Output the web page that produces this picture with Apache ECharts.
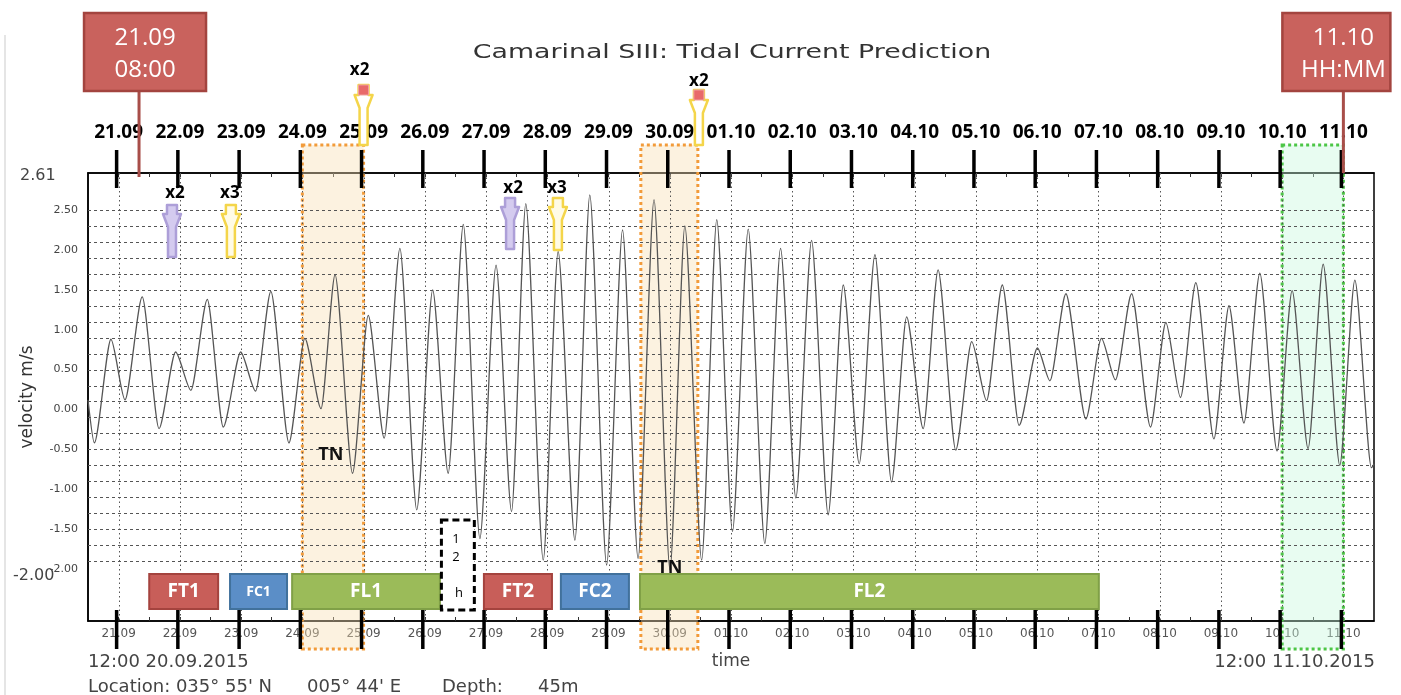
<!DOCTYPE html>
<html>
<head>
<meta charset="utf-8">
<script src="https://cdn.jsdelivr.net/npm/echarts@6/dist/echarts.min.js"></script>
<style>
html,body{margin:0;padding:0;background:#fff;}
#c{width:1401px;height:695px;}
</style>
</head>
<body>
<div id="c"></div>
<script>
// ---------------- DATA ----------------
const YEAR = 2015;
const startTime = '09-20 12:00';
const endTime = '10-11 12:00';

const dayTickLabels = ['21.09','22.09','23.09','24.09','25.09','26.09','27.09','28.09','29.09','30.09',
  '01.10','02.10','03.10','04.10','05.10','06.10','07.10','08.10','09.10','10.10','11.10'];

const yTickValues = [2.5, 2.0, 1.5, 1.0, 0.5, 0.0, -0.5, -1.0, -1.5, -2.0];
const gridLevels = [2.5, 2.3, 2.1, 1.9, 1.7, 1.5, 1.3, 1.1, 0.9, 0.7, 0.5, 0.3, 0.1,
  -0.1, -0.3, -0.5, -0.7, -0.9, -1.1, -1.3, -1.5, -1.7, -1.9];

// tidal current extremes (time, velocity m/s)
const tideTimes = [
 '09-20 12:00','09-20 14:30','09-20 21:00','09-21 02:30','09-21 09:15','09-21 15:50','09-21 22:20','09-22 04:20','09-22 10:45','09-22 17:00',
 '09-22 23:50','09-23 05:40','09-23 11:40','09-23 18:45','09-24 01:00','09-24 07:20','09-24 12:50','09-24 19:40','09-25 01:50','09-25 08:05',
 '09-25 14:15','09-25 20:50','09-26 03:05','09-26 09:10','09-26 15:05','09-26 21:35','09-27 03:55','09-27 10:00','09-27 15:35','09-27 22:25',
 '09-28 04:15','09-28 10:50','09-28 16:40','09-28 23:15','09-29 05:30','09-29 11:35','09-29 17:50','09-30 00:05','09-30 05:55','09-30 12:30',
 '09-30 18:25','10-01 00:35','10-01 06:45','10-01 13:15','10-01 19:25','10-02 01:25','10-02 07:35','10-02 14:05','10-02 20:00','10-03 02:15',
 '10-03 08:25','10-03 14:55','10-03 20:50','10-04 03:20','10-04 09:10','10-04 16:05','10-04 22:20','10-05 04:10','10-05 10:20','10-05 16:55',
 '10-06 00:05','10-06 05:00','10-06 11:15','10-06 19:05','10-07 01:10','10-07 06:40','10-07 13:00','10-07 20:25','10-08 02:25','10-08 08:10',
 '10-08 14:10','10-08 21:15','10-09 03:10','10-09 09:00','10-09 15:15','10-09 22:00','10-10 03:55','10-10 10:10','10-10 16:05','10-10 22:35',
 '10-11 04:30','10-11 11:00','10-11 12:00'];
const tideValues = [
 0.12,-0.42,0.88,0.12,1.41,-0.24,0.72,0.24,1.38,-0.22,
 0.72,0.23,1.48,-0.42,0.89,0.01,1.69,-0.80,1.18,-0.36,
 2.02,-1.26,1.50,-0.80,2.32,-1.62,1.81,-1.28,2.58,-1.89,
 1.98,-1.64,2.69,-1.95,2.25,-1.87,2.63,-2.01,2.30,-1.89,
 2.38,-1.53,2.26,-1.68,2.02,-1.11,2.12,-1.32,1.56,-0.68,
 1.94,-0.91,1.16,-0.24,1.75,-0.51,0.85,0.11,1.56,-0.20,
 0.77,0.36,1.45,-0.12,0.89,0.37,1.45,-0.22,1.09,0.15,
 1.59,-0.37,1.30,-0.17,1.71,-0.52,1.49,-0.49,1.82,-0.70,
 1.62,-0.73,-0.68];

// highlighted windows
const windowFrom = ['09-24 00:00', '09-29 12:40', '10-10 00:00'];
const windowTo   = ['09-25 00:00', '09-30 11:00', '10-11 00:00'];
const windowKinds = ['TN', 'TN', 'now'];

// phases along the bottom
const phaseNames  = ['FT1', 'FC1', 'FL1', '12h', 'FT2', 'FC2', 'FL2'];
const phaseStarts = ['09-21 12:00', '09-22 19:40', '09-23 20:00', '09-26 05:55', '09-26 23:10', '09-28 05:20', '09-29 12:20'];
const phaseEnds   = ['09-22 15:00', '09-23 18:00', '09-26 05:55', '09-26 20:00', '09-28 01:50', '09-29 08:00', '10-07 00:10'];

// markers (arrows)
const arrowTimes  = ['09-21 20:55', '09-22 20:00', '09-25 00:00', '09-27 09:25', '09-28 04:10', '09-30 11:25'];
const arrowLabels = ['x2', 'x3', 'x2', 'x2', 'x3', 'x2'];

// TN labels
const tnTimes  = ['09-24 11:10', '09-30 00:00'];
const tnValues = [-0.57, -1.98];
const tnTexts  = ['TN', 'TN'];

// callouts
const calloutTimes = ['09-21 08:00', '10-11 00:00'];
const calloutTexts = ['21.09\n08:00', '11.10\nHH:MM'];

// ---------------- HELPERS ----------------
function toMs(s) {
  const [d, t] = s.split(' ');
  const [mo, da] = d.split('-').map(Number);
  const [hh, mm] = t.split(':').map(Number);
  return Date.UTC(YEAR, mo - 1, da, hh, mm);
}
function dayMs(lbl) {
  const [da, mo] = lbl.split('.').map(Number);
  return Date.UTC(YEAR, mo - 1, da);
}
const pad = n => (n < 10 ? '0' : '') + n;
function fmtDay(v) {
  const d = new Date(v);
  return pad(d.getUTCDate()) + '.' + pad(d.getUTCMonth() + 1);
}

const xMin = toMs(startTime), xMax = toMs(endTime);
const dayMsList = dayTickLabels.map(dayMs);
const middayMsList = dayMsList.map(t => t + 12 * 3600e3).filter(t => t < xMax);
const smallTicks = dayMsList.concat(middayMsList);

// ---------------- STYLES / LAYOUT ----------------
const GRID = { left: 88, top: 173, width: 1286, height: 448 };
const phaseStyle = {
  FT: { fill: '#c85e59', stroke: '#a4433e' },
  FC: { fill: '#5b8ec7', stroke: '#41719c' },
  FL: { fill: '#9bbb59', stroke: '#80a047' }
};
const arrowLayout = [
  { color: 'purple', top: 205, bottom: 257, capH: 9, headH: 13, labelY: 193, labelDx: 3 },
  { color: 'yellow', top: 205, bottom: 257, capH: 9, headH: 13, labelY: 193, labelDx: -1 },
  { color: 'topYellow', top: 85, bottom: 145, capH: 10, headH: 13, labelY: 70, labelDx: -4 },
  { color: 'purple', top: 198, bottom: 249, capH: 9, headH: 13, labelY: 188, labelDx: 3 },
  { color: 'yellow', top: 198, bottom: 250, capH: 9, headH: 13, labelY: 188, labelDx: -1 },
  { color: 'topYellow', top: 90, bottom: 145, capH: 10, headH: 13, labelY: 81, labelDx: 0 }
];
const arrowColors = {
  purple: { stroke: '#ad9fd8', fill: '#d4cbef' },
  yellow: { stroke: '#f4d54a', fill: '#fffbe6' },
  topYellow: { stroke: '#f4d54a', fill: '#ffffff' }
};
const calloutLayout = [
  { left: -55, right: 67, textDx: 6, lineEnd: 177 },
  { left: -61, right: 47, textDx: 0, lineEnd: 173 }
];

function pinPoints(cx, top, bottom, capH, headH) {
  return [[cx - 5, top], [cx + 5, top], [cx + 5, top + capH], [cx + 9, top + capH],
    [cx + 4, top + capH + headH], [cx + 4, bottom], [cx - 4, bottom],
    [cx - 4, top + capH + headH], [cx - 9, top + capH], [cx - 5, top + capH]];
}

// ---------------- CHART ----------------
const chart = echarts.init(document.getElementById('c'), null, { renderer: 'canvas' });

const option = {
  animation: false,
  backgroundColor: '#ffffff',
  grid: { left: GRID.left, top: GRID.top, width: GRID.width, height: GRID.height,
    show: true, borderColor: '#000', borderWidth: 1.5, backgroundColor: 'transparent' },
  xAxis: [
    {
      type: 'value', position: 'bottom', min: xMin, max: xMax,
      axisLine: { show: true, onZero: false, lineStyle: { color: '#000', width: 1.5 } },
      axisTick: { show: true, inside: true, length: 4, customValues: smallTicks, lineStyle: { color: '#333' } },
      axisLabel: { customValues: dayMsList, formatter: v => fmtDay(v), color: '#555',
        fontFamily: 'DejaVu Sans', fontSize: 12, margin: 7 },
      splitLine: { show: false },
      name: 'time', nameLocation: 'middle', nameGap: 32,
      nameTextStyle: { fontFamily: 'DejaVu Sans', fontSize: 17, color: '#444' }
    },
    {
      type: 'value', position: 'top', min: xMin, max: xMax,
      axisLine: { show: true, onZero: false, lineStyle: { color: '#000', width: 1.5 } },
      axisTick: { show: true, inside: true, length: 4, customValues: smallTicks, lineStyle: { color: '#333' } },
      axisLabel: { customValues: dayMsList, formatter: v => fmtDay(v), color: '#000',
        fontFamily: 'Open Sans', fontWeight: 'bold', fontSize: 19, margin: 31 },
      splitLine: { show: false }
    }
  ],
  yAxis: [{
    type: 'value', min: -2.652, max: 2.964,
    axisLine: { show: true, onZero: false, lineStyle: { color: '#000', width: 1.5 } },
    axisTick: { show: false },
    axisLabel: { customValues: yTickValues, formatter: v => v.toFixed(2), color: '#444',
      fontFamily: 'DejaVu Sans', fontSize: 11, margin: 10 },
    splitLine: { show: false },
    name: 'velocity m/s', nameLocation: 'middle', nameGap: 52, nameRotate: 90,
    nameTextStyle: { fontFamily: 'DejaVu Sans', fontSize: 17, color: '#333' }
  }],
  graphic: [
    { type: 'line', z: 0, shape: { x1: 5, y1: 35, x2: 5, y2: 695 }, style: { stroke: '#dcdcdc', lineWidth: 1.5 } },
    { type: 'text', x: 732, y: 53, scaleX: 1.41, z: 10,
      style: { text: 'Camarinal SIII: Tidal Current Prediction', textAlign: 'center', textVerticalAlign: 'middle',
        fontFamily: 'DejaVu Sans', fontSize: 19, fill: '#333' } },
    { type: 'text', x: 20, y: 176, z: 10,
      style: { text: '2.61', textAlign: 'left', textVerticalAlign: 'middle', fontFamily: 'DejaVu Sans', fontSize: 16, fill: '#444' } },
    { type: 'text', x: 13, y: 576, z: 0,
      style: { text: '-2.00', textAlign: 'left', textVerticalAlign: 'middle', fontFamily: 'DejaVu Sans', fontSize: 16, fill: '#444' } },
    { type: 'text', x: 88, y: 662, z: 10,
      style: { text: '12:00 20.09.2015', textAlign: 'left', textVerticalAlign: 'middle', fontFamily: 'DejaVu Sans', fontSize: 18, fill: '#444' } },
    { type: 'text', x: 1375, y: 662, z: 10,
      style: { text: '12:00 11.10.2015', textAlign: 'right', textVerticalAlign: 'middle', fontFamily: 'DejaVu Sans', fontSize: 18, fill: '#444' } },
    { type: 'text', x: 88, y: 687, z: 10,
      style: { text: "Location: 035° 55' N", textAlign: 'left', textVerticalAlign: 'middle', fontFamily: 'DejaVu Sans', fontSize: 18, fill: '#444' } },
    { type: 'text', x: 307, y: 687, z: 10,
      style: { text: "005° 44' E", textAlign: 'left', textVerticalAlign: 'middle', fontFamily: 'DejaVu Sans', fontSize: 18, fill: '#444' } },
    { type: 'text', x: 442, y: 687, z: 10,
      style: { text: 'Depth:', textAlign: 'left', textVerticalAlign: 'middle', fontFamily: 'DejaVu Sans', fontSize: 18, fill: '#444' } },
    { type: 'text', x: 538, y: 687, z: 10,
      style: { text: '45m', textAlign: 'left', textVerticalAlign: 'middle', fontFamily: 'DejaVu Sans', fontSize: 18, fill: '#444' } }
  ],
  series: [
    // highlighted windows
    {
      type: 'custom', name: 'windows', z: 1, silent: true, clip: false,
      data: windowFrom.map((f, i) => [toMs(f), toMs(windowTo[i]), 0, i]),
      encode: { x: [0, 1], y: 2 },
      renderItem: (params, api) => {
        const i = api.value(3);
        const x0 = api.coord([api.value(0), 0])[0];
        const x1 = api.coord([api.value(1), 0])[0];
        const green = windowKinds[i] === 'now';
        return {
          type: 'rect', shape: { x: x0, y: 145, width: x1 - x0, height: 504 },
          style: {
            fill: green ? 'rgba(200,247,222,0.42)' : 'rgba(247,224,180,0.42)',
            stroke: green ? '#4cc646' : '#f29b3a', lineWidth: 3, lineDash: [3, 3]
          }
        };
      }
    },
    // horizontal grid lines
    {
      type: 'custom', name: 'hgrid', z: 2, silent: true, clip: false,
      data: gridLevels.map(v => [xMin, v]),
      renderItem: (params, api) => {
        const cs = params.coordSys;
        const y = Math.round(api.coord([xMin, api.value(1)])[1]) + 0.5;
        return { type: 'line', shape: { x1: cs.x, y1: y, x2: cs.x + cs.width, y2: y },
          style: { stroke: '#555', lineWidth: 1, lineDash: [3, 3] } };
      }
    },
    // vertical grid lines
    {
      type: 'custom', name: 'vgrid', z: 2, silent: true, clip: false,
      data: dayMsList.map(t => [t, 0]),
      renderItem: (params, api) => {
        const cs = params.coordSys;
        const x = Math.round(api.coord([api.value(0), 0])[0]) + 0.5;
        return { type: 'line', shape: { x1: x, y1: cs.y, x2: x, y2: cs.y + cs.height },
          style: { stroke: '#555', lineWidth: 1, lineDash: [1.5, 3] } };
      }
    },
    // tidal current
    {
      type: 'line', name: 'velocity', z: 3, silent: true,
      data: tideTimes.map((t, i) => [toMs(t), tideValues[i]]),
      showSymbol: false, smooth: 0.25, smoothMonotone: 'x',
      lineStyle: { color: '#555', width: 1.3 }
    },
    // phases
    {
      type: 'custom', name: 'phases', z: 5, silent: true, clip: false,
      data: phaseNames.map((n, i) => [toMs(phaseStarts[i]), toMs(phaseEnds[i]), 0, i]),
      encode: { x: [0, 1], y: 2 },
      renderItem: (params, api) => {
        const i = api.value(3);
        const name = phaseNames[i];
        const x0 = api.coord([api.value(0), 0])[0];
        const x1 = api.coord([api.value(1), 0])[0];
        if (name === '12h') {
          const cx = (x0 + x1) / 2;
          return { type: 'group', children: [
            { type: 'rect', shape: { x: x0 + 1.5, y: 520, width: x1 - x0 - 3, height: 90 },
              style: { fill: '#fff', stroke: '#000', lineWidth: 3, lineDash: [7, 4] } },
            { type: 'text', style: { text: '1', x: cx - 2, y: 539, textAlign: 'center', textVerticalAlign: 'middle', fontFamily: 'Open Sans', fontSize: 13, fill: '#000' } },
            { type: 'text', style: { text: '2', x: cx - 2, y: 557, textAlign: 'center', textVerticalAlign: 'middle', fontFamily: 'Open Sans', fontSize: 13, fill: '#000' } },
            { type: 'text', style: { text: 'h', x: cx + 1, y: 593, textAlign: 'center', textVerticalAlign: 'middle', fontFamily: 'Open Sans', fontSize: 13, fill: '#000' } }
          ] };
        }
        const st = phaseStyle[name.slice(0, 2)];
        return { type: 'group', children: [
          { type: 'rect', shape: { x: x0, y: 574, width: x1 - x0, height: 35 },
            style: { fill: st.fill, stroke: st.stroke, lineWidth: 2 } },
          { type: 'text', style: { text: name, x: (x0 + x1) / 2, y: 592, textAlign: 'center', textVerticalAlign: 'middle',
            fontFamily: 'Open Sans', fontWeight: 'bold', fontSize: name === 'FC1' ? 14 : 19, fill: '#fff' } }
        ] };
      }
    },
    // arrows
    {
      type: 'custom', name: 'arrows', z: 6, silent: true, clip: false,
      data: arrowTimes.map((t, i) => [toMs(t), 0, i]),
      renderItem: (params, api) => {
        const i = api.value(2);
        const L = arrowLayout[i];
        const c = arrowColors[L.color];
        const cx = api.coord([api.value(0), 0])[0];
        const children = [
          { type: 'polygon', shape: { points: pinPoints(cx, L.top, L.bottom, L.capH, L.headH) },
            style: { fill: c.fill, stroke: c.stroke, lineWidth: 2.5, lineJoin: 'round' } }
        ];
        if (L.color === 'topYellow') {
          children.push({ type: 'rect', shape: { x: cx - 5, y: L.top, width: 10, height: L.capH },
            style: { fill: '#e8696a', stroke: '#f0a0a0', lineWidth: 1 } });
        }
        children.push({ type: 'text', style: { text: arrowLabels[i], x: cx + L.labelDx, y: L.labelY,
          textAlign: 'center', textVerticalAlign: 'middle', fontFamily: 'Open Sans', fontWeight: 'bold', fontSize: 17, fill: '#000' } });
        return { type: 'group', children };
      }
    },
    // TN labels
    {
      type: 'custom', name: 'tn', z: 8, silent: true, clip: false,
      data: tnTimes.map((t, i) => [toMs(t), tnValues[i], i]),
      renderItem: (params, api) => {
        const p = api.coord([api.value(0), api.value(1)]);
        return { type: 'text', style: { text: tnTexts[api.value(2)], x: p[0], y: p[1], textAlign: 'center', textVerticalAlign: 'middle',
          fontFamily: 'Open Sans', fontWeight: 'bold', fontSize: 18, fill: '#111' } };
      }
    },
    // big day ticks (top and bottom)
    {
      type: 'custom', name: 'bigticks', z: 20, silent: true, clip: false,
      data: dayMsList.map(t => [t, 0]),
      renderItem: (params, api) => {
        const x = api.coord([api.value(0), 0])[0] - 2;
        return { type: 'group', children: [
          { type: 'line', shape: { x1: x, y1: 150, x2: x, y2: 188 }, style: { stroke: '#000', lineWidth: 3.5 } },
          { type: 'line', shape: { x1: x, y1: 610, x2: x, y2: 649 }, style: { stroke: '#000', lineWidth: 3.5 } }
        ] };
      }
    },
    // callouts
    {
      type: 'custom', name: 'callouts', z: 30, silent: true, clip: false,
      data: calloutTimes.map((t, i) => [toMs(t), 0, i]),
      renderItem: (params, api) => {
        const i = api.value(2);
        const L = calloutLayout[i];
        const x = api.coord([api.value(0), 0])[0];
        return { type: 'group', children: [
          { type: 'line', shape: { x1: x, y1: 90, x2: x, y2: L.lineEnd }, style: { stroke: '#a84e49', lineWidth: 3 } },
          { type: 'rect', shape: { x: x + L.left, y: 13, width: L.right - L.left, height: 78 },
            style: { fill: '#c9625d', stroke: '#a3443f', lineWidth: 2.5 } },
          { type: 'text', style: { text: calloutTexts[i], x: x + L.textDx, y: 54, textAlign: 'center', textVerticalAlign: 'middle',
            fontFamily: 'Open Sans', fontSize: 24, lineHeight: 32, fill: '#fff' } }
        ] };
      }
    }
  ]
};

chart.setOption(option);
</script>
</body>
</html>
